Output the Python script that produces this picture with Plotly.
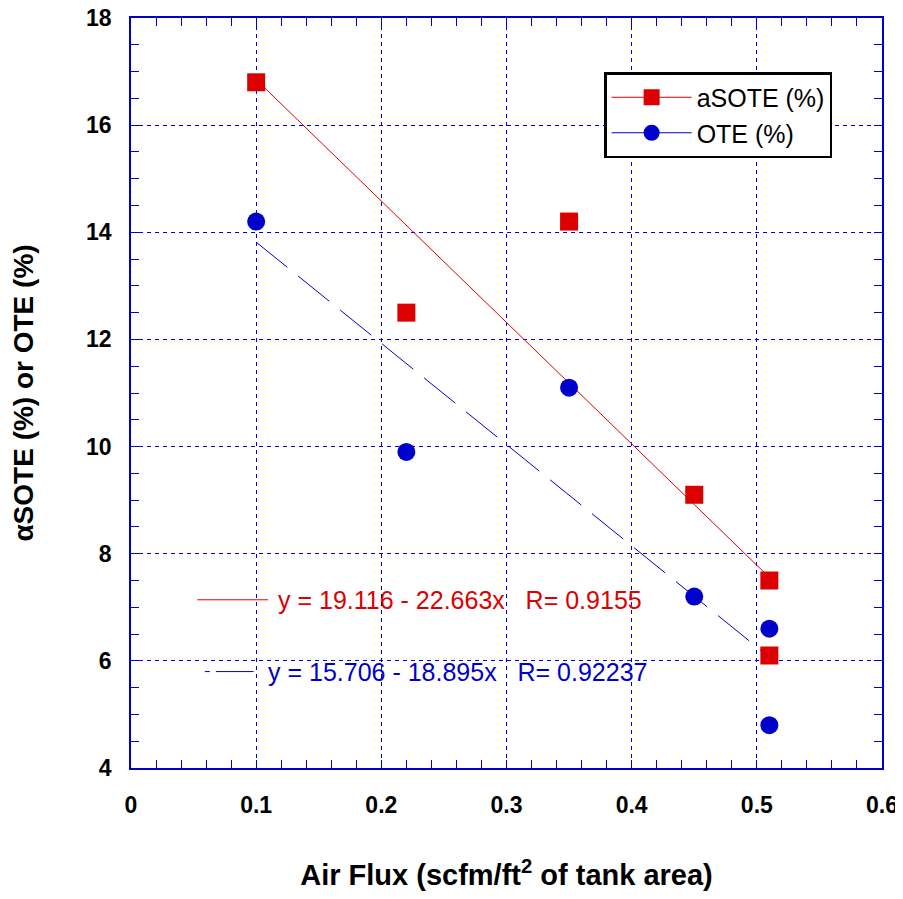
import plotly.graph_objects as go

# Data
air_flux = [0.1, 0.22, 0.35, 0.45, 0.51, 0.51]
asote = [16.8, 12.5, 14.2, 9.1, 7.5, 6.1]
ote = [14.2, 9.9, 11.1, 7.2, 6.6, 4.8]

x_ticks = [0, 0.1, 0.2, 0.3, 0.4, 0.5, 0.6]
x_tick_labels = ["0", "0.1", "0.2", "0.3", "0.4", "0.5", "0.6"]
y_ticks = [4, 6, 8, 10, 12, 14, 16, 18]

# Fit coefficients (from chart)
asote_fit = (19.116, -22.663, 0.9155)
ote_fit = (15.706, -18.895, 0.92237)
fit_range = [0.1, 0.51]

RED = "#DD0000"
BLUE = "#0000CC"
GRID = "#0000DD"
FONT = "Liberation Sans, Arial, sans-serif"

fig = go.Figure()

# Fit lines
fig.add_trace(go.Scatter(
    x=fit_range, y=[asote_fit[0] + asote_fit[1] * v for v in fit_range],
    mode="lines", line=dict(color=RED, width=1), showlegend=False, hoverinfo="skip"))
fig.add_trace(go.Scatter(
    x=fit_range, y=[ote_fit[0] + ote_fit[1] * v for v in fit_range],
    mode="lines", line=dict(color=BLUE, width=1, dash="40px,14px"), showlegend=False, hoverinfo="skip"))

# Data markers
fig.add_trace(go.Scatter(x=air_flux, y=asote, mode="markers",
                         marker=dict(symbol="square", size=18, color=RED), showlegend=False))
fig.add_trace(go.Scatter(x=air_flux, y=ote, mode="markers",
                         marker=dict(symbol="circle", size=18, color=BLUE), showlegend=False))

# Legend entries
fig.add_trace(go.Scatter(x=[None], y=[None], mode="lines+markers", name="aSOTE (%)",
                         line=dict(color=RED, width=1), marker=dict(symbol="square", size=17, color=RED)))
fig.add_trace(go.Scatter(x=[None], y=[None], mode="lines+markers", name="OTE (%)",
                         line=dict(color=BLUE, width=1), marker=dict(symbol="circle", size=17, color=BLUE)))

# Equation keys
fig.add_shape(type="line", xref="x", yref="y", x0=0.053, x1=0.1095, y0=7.14, y1=7.14,
              line=dict(color=RED, width=1))
fig.add_shape(type="line", xref="x", yref="y", x0=0.059, x1=0.098, y0=5.8, y1=5.8,
              line=dict(color=BLUE, width=1, dash="5px,6px,40px"))

fig.add_annotation(x=0.1155, y=7.14, xref="x", yref="y", xanchor="left", yanchor="middle",
                   showarrow=False,
                   text=f"y = {asote_fit[0]:.3f} - {abs(asote_fit[1]):.3f}x   R= {asote_fit[2]}",
                   font=dict(family=FONT, size=25, color=RED))
fig.add_annotation(x=0.1075, y=5.8, xref="x", yref="y", xanchor="left", yanchor="middle",
                   showarrow=False,
                   text=f"y = {ote_fit[0]:.3f} - {abs(ote_fit[1]):.3f}x   R= {ote_fit[2]}",
                   font=dict(family=FONT, size=25, color=BLUE))

axis_common = dict(
    showline=True, linecolor=BLUE, linewidth=1.5, mirror="allticks",
    ticks="inside", tickcolor=BLUE, ticklen=8, tickwidth=1,
    showgrid=True, gridcolor=GRID, griddash="4px,4px", gridwidth=1,
    zeroline=False, automargin=False, ticklabeloverflow="allow",
    tickfont=dict(family=FONT, size=23, color="black", weight="bold"),
)

fig.update_xaxes(range=[0, 0.6], tickvals=x_ticks, ticktext=x_tick_labels,
                 ticklabelstandoff=16,
                 minor=dict(dtick=0.02, ticks="inside", ticklen=8, tickcolor=BLUE, showgrid=False),
                 title=dict(text="Air Flux (scfm/ft<sup>2</sup> of tank area)",
                            font=dict(family=FONT, size=29, color="black", weight="bold"),
                            standoff=50),
                 **axis_common)
fig.update_yaxes(range=[4, 18], tickvals=y_ticks,
                 ticklabelstandoff=13,
                 minor=dict(dtick=0.5, ticks="inside", ticklen=8, tickcolor=BLUE, showgrid=False),
                 title=dict(text="αSOTE (%) or OTE (%)",
                            font=dict(family=FONT, size=28, color="black", weight="bold"),
                            standoff=47),
                 **axis_common)

fig.update_layout(
    width=895, height=883,
    margin=dict(l=123, r=21, t=10, b=123),
    plot_bgcolor="white", paper_bgcolor="white",
    legend=dict(x=0.63, y=0.928, xanchor="left", yanchor="top",
                bgcolor="white", bordercolor="black", borderwidth=2.5,
                font=dict(family=FONT, size=25, color="black"),
                itemwidth=80, tracegroupgap=0),
    showlegend=True,
)

fig.write_html("out.html")
